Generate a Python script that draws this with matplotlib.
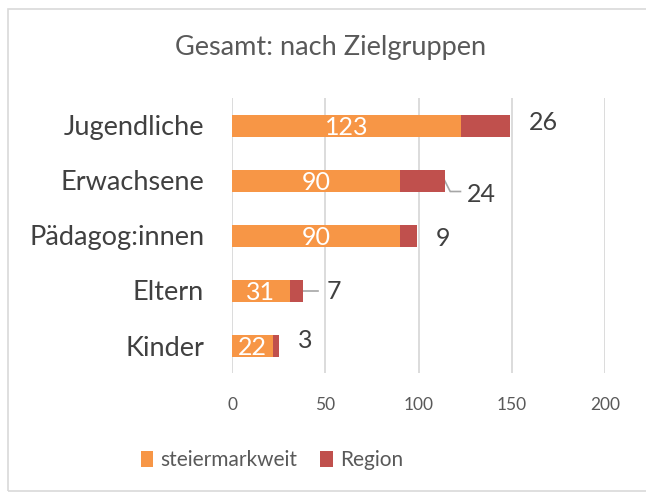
import matplotlib.pyplot as plt
from matplotlib.patches import Rectangle

kategorien = ['Jugendliche', 'Erwachsene', 'Pädagog:innen', 'Eltern', 'Kinder']
steiermarkweit = [123, 90, 90, 31, 22]
region = [26, 24, 9, 7, 3]

orange = '#F79646'
rot = '#C0504D'
text_grau = '#595959'

plt.rcParams['font.family'] = ['Lato', 'DejaVu Sans']

fig = plt.figure(figsize=(6.46, 4.93), dpi=100)
ax = fig.add_axes([232 / 646, 1 - 373 / 493, 373 / 646, 275 / 493])

y = list(range(len(kategorien)))
ax.barh(y, steiermarkweit, height=0.4, color=orange, label='steiermarkweit', zorder=3)
ax.barh(y, region, left=steiermarkweit, height=0.4, color=rot, label='Region', zorder=3)

ax.set_xlim(0, 200)
ax.set_ylim(len(kategorien) - 0.5, -0.5)
ax.set_xticks([0, 50, 100, 150, 200])
ax.set_yticks(y)
ax.set_yticklabels(kategorien, fontsize=19.5, color='#404040')
ax.tick_params(axis='x', labelsize=12.5, colors=text_grau, length=0, pad=17)
ax.tick_params(axis='y', length=0, pad=20)
ax.grid(axis='x', color='#D9D9D9', linewidth=1.3, zorder=0)
for s in ax.spines.values():
    s.set_visible(False)

# Werte im Balken
for i, v in enumerate(steiermarkweit):
    ax.text(v / 2, i + 0.03, str(v), color='white', fontsize=18,
            ha='center', va='center', zorder=4)

# Region-Werte ausserhalb (einige mit Fuehrungslinie)
versatz = [(10, -0.05), (12, 0.25), (10, 0.05), (13, 0.02), (10.5, -0.1)]
for i, (s, r) in enumerate(zip(steiermarkweit, region)):
    dx, dy = versatz[i]
    ax.text(s + r + dx, i + dy, str(r), color='#404040', fontsize=18,
            ha='left', va='center', zorder=4)
ax.plot([114, 117, 122.5], [1.0, 1.2, 1.2], color='#A6A6A6', lw=1.2, zorder=2)
ax.plot([38, 46], [3.0, 3.0], color='#A6A6A6', lw=1.2, zorder=2)

fig.text(331 / 646, 1 - 48 / 493, 'Gesamt: nach Zielgruppen', ha='center', va='center',
         fontsize=19.5, color=text_grau)

fig.legend(loc='center', bbox_to_anchor=(272 / 646, 1 - 460 / 493), ncol=2, frameon=False,
           fontsize=15, labelcolor=text_grau, handlelength=0.6, handleheight=0.8,
           columnspacing=1.1, handletextpad=0.35)

fig.patches.append(Rectangle((8 / 646, 0.005), 1.2, 1 - 9 / 493 - 0.005,
                             transform=fig.transFigure, fill=False,
                             edgecolor='#D9D9D9', lw=1.2))

fig.savefig('out.png', dpi=100)
